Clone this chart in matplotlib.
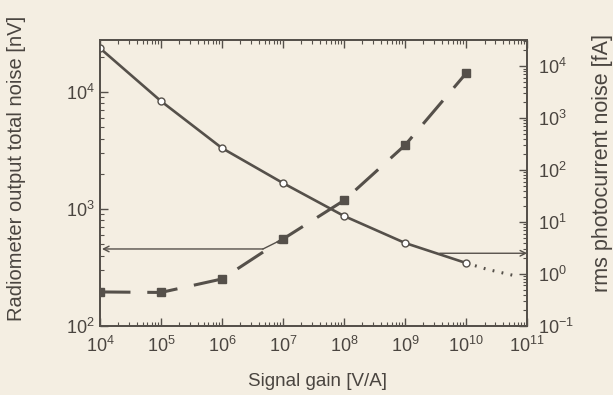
import numpy as np
import matplotlib
matplotlib.use('Agg')
from matplotlib import pyplot as plt
from matplotlib.ticker import LogLocator, NullFormatter

plt.rcParams['font.family'] = ['Liberation Sans', 'DejaVu Sans']

# signal gain [V/A]
gain = [1e4, 1e5, 1e6, 1e7, 1e8, 1e9, 1e10]
# radiometer output total noise [nV] (left axis)
total_noise = [23800, 8380, 3320, 1667, 871, 512, 345]
# extrapolated part of the total noise (dotted)
extra_gain = [1e10, 2.2e10, 4.2e10, 6.6e10]
extra_noise = [345, 305, 282, 267]
# rms photocurrent noise [fA] (right axis)
photo_noise = [0.45, 0.44, 0.80, 4.7, 26, 302, 7300]

bg = '#f4eee2'
ink = '#55504a'
txt = '#4a4540'

fig = plt.figure(figsize=(6.13, 3.95), dpi=100, facecolor=bg)
ax = fig.add_axes([0.163, 0.175, 0.697, 0.724], facecolor=bg)
ax2 = ax.twinx()

ax.set_xscale('log')
ax.set_yscale('log')
ax2.set_yscale('log')
ax.set_xlim(1e4, 1e11)
ax.set_ylim(1e2, 2.8e4)
ax2.set_ylim(1e-1, 3.2e4)

# total noise curve
ax.plot(gain, total_noise, color=ink, lw=1.9, marker='o', ms=5,
        mfc='white', mec=ink, mew=1.0, zorder=5)
ax.plot(extra_gain, extra_noise, color=ink, lw=2.2, ls=(0, (0.6, 2.4)),
        dash_capstyle='butt', zorder=4)

# photocurrent noise curve
ax2.plot(gain, photo_noise, color=ink, lw=2.2, marker='s', ms=6,
         mfc=ink, mec=ink, dashes=(10, 5.5), zorder=5)

# arrows pointing at the relevant axis
ax.plot([4.7e6, 1e7], [455, 554], color=ink, lw=1.0)
ax.annotate('', xy=(1.08e4, 455), xytext=(4.7e6, 455),
            arrowprops=dict(arrowstyle='->', color=ink, lw=1.0,
                            shrinkA=0, shrinkB=0))
ax2.annotate('', xy=(1e11, 2.5), xytext=(3.7e9, 2.5),
             arrowprops=dict(arrowstyle='->', color=ink, lw=1.0,
                             shrinkA=0, shrinkB=0))

for a in (ax, ax2):
    for s in a.spines.values():
        s.set_color(ink)
        s.set_linewidth(1.3)

ax.tick_params(which='both', direction='in', colors=ink, labelcolor=txt,
               labelsize=13, top=True, right=False)
ax.tick_params(axis='x', pad=7)
ax.tick_params(which='major', length=6, width=1.0)
ax.tick_params(which='minor', length=3, width=0.8)
ax2.tick_params(which='both', direction='in', colors=ink, labelcolor=txt,
                labelsize=13, pad=8)
ax2.tick_params(which='major', length=6, width=1.0)
ax2.tick_params(which='minor', length=3, width=0.8)

ax.xaxis.set_major_locator(LogLocator(base=10, numticks=12))
ax.xaxis.set_minor_locator(LogLocator(base=10, subs=np.arange(2, 10), numticks=12))
ax.xaxis.set_minor_formatter(NullFormatter())
ax.yaxis.set_minor_formatter(NullFormatter())
ax2.yaxis.set_major_locator(LogLocator(base=10, numticks=12))
ax2.yaxis.set_minor_locator(LogLocator(base=10, subs=np.arange(2, 10), numticks=12))
ax2.yaxis.set_minor_formatter(NullFormatter())

ax.set_xlabel('Signal gain [V/A]', fontsize=13.5, color=txt)
ax.xaxis.set_label_coords(0.51, -0.165)
ax.set_ylabel('Radiometer output total noise [nV]', fontsize=14.5, color=txt)
ax.yaxis.set_label_coords(-0.172, 0.55)
ax2.set_ylabel('rms photocurrent noise [fA]', fontsize=15.5, color=txt)
ax2.yaxis.set_label_coords(1.152, 0.57)

fig.savefig('out.png', dpi=100, facecolor=bg)
